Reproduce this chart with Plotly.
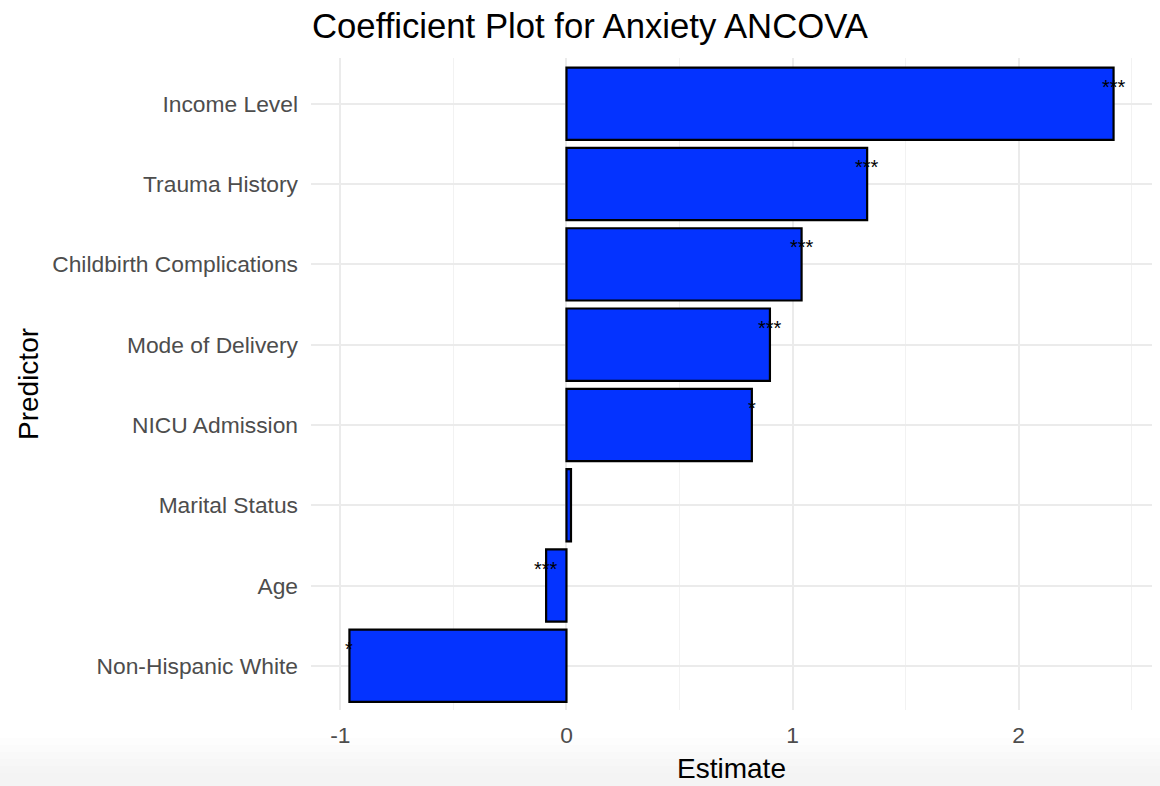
import plotly.graph_objects as go

predictors = ["Non-Hispanic White", "Age", "Marital Status", "NICU Admission",
              "Mode of Delivery", "Childbirth Complications", "Trauma History", "Income Level"]
estimates = [-0.96, -0.09, 0.02, 0.82, 0.90, 1.04, 1.33, 2.42]
stars = ["*", "***", "", "*", "***", "***", "***", "***"]

x_ticks = [-1, 0, 1, 2]
x_tick_labels = ["-1", "0", "1", "2"]

font_family = "Liberation Sans, Arial, Helvetica, sans-serif"

fig = go.Figure()
fig.add_trace(go.Bar(
    x=estimates, y=predictors, orientation="h",
    marker=dict(color="#0433FF", line=dict(color="black", width=2.2)),
    width=0.9, showlegend=False, hoverinfo="x+y",
))

for p, e, s in zip(predictors, estimates, stars):
    if s:
        fig.add_annotation(x=e, y=p, text=s, showarrow=False, xanchor="center",
                           yanchor="middle", yshift=17,
                           font=dict(size=20, color="black", family=font_family))

# light bottom strip (screenshot background)
shades = ["#fdfdfd", "#fbfbfb", "#f9f9f9", "#f7f7f7", "#f5f5f5", "#f4f4f4"]
for i, c in enumerate(shades):
    y_top_px = 738 + i * 7
    fig.add_shape(type="rect", xref="paper", yref="paper",
                  x0=-0.5, x1=1.1,
                  y0=-(786 - 58 - 652) / 652 - 1,
                  y1=-((y_top_px - 710) / 652),
                  fillcolor=c, line=dict(width=0), layer="below")

fig.update_layout(
    width=1160, height=786,
    margin=dict(l=311, r=8, t=58, b=76, autoexpand=False),
    paper_bgcolor="white", plot_bgcolor="white",
    font=dict(family=font_family, color="#4d4d4d", size=22),
    title=dict(text="Coefficient Plot for Anxiety ANCOVA", x=312 / 1160, xanchor="left",
               y=1 - 26 / 786, yanchor="middle",
               font=dict(size=34.7, color="black", family=font_family)),
    xaxis=dict(range=[-1.13, 2.59], tickvals=x_ticks, ticktext=x_tick_labels,
               showgrid=True, gridcolor="#ebebeb", gridwidth=2,
               minor=dict(dtick=0.5, tick0=-0.5, showgrid=True, gridcolor="#f2f2f2", gridwidth=1.2),
               zeroline=False, showline=False, ticks="", automargin=False,
               ticklabelstandoff=9,
               title=dict(text="Estimate", font=dict(size=28, color="black"), standoff=11),
               tickfont=dict(size=22.8, color="#4d4d4d")),
    yaxis=dict(categoryorder="array", categoryarray=predictors, range=[-0.55, 7.57],
               showgrid=True, gridcolor="#ebebeb", gridwidth=2,
               zeroline=False, showline=False, ticks="", automargin=False,
               ticklabelstandoff=12,
               title=dict(text="Predictor", font=dict(size=28, color="black"), standoff=5),
               tickfont=dict(size=22.8, color="#4d4d4d")),
    bargap=0.1,
)

fig.write_html("out.html", config={"displayModeBar": False},
               post_script="document.body.style.margin='0';")
